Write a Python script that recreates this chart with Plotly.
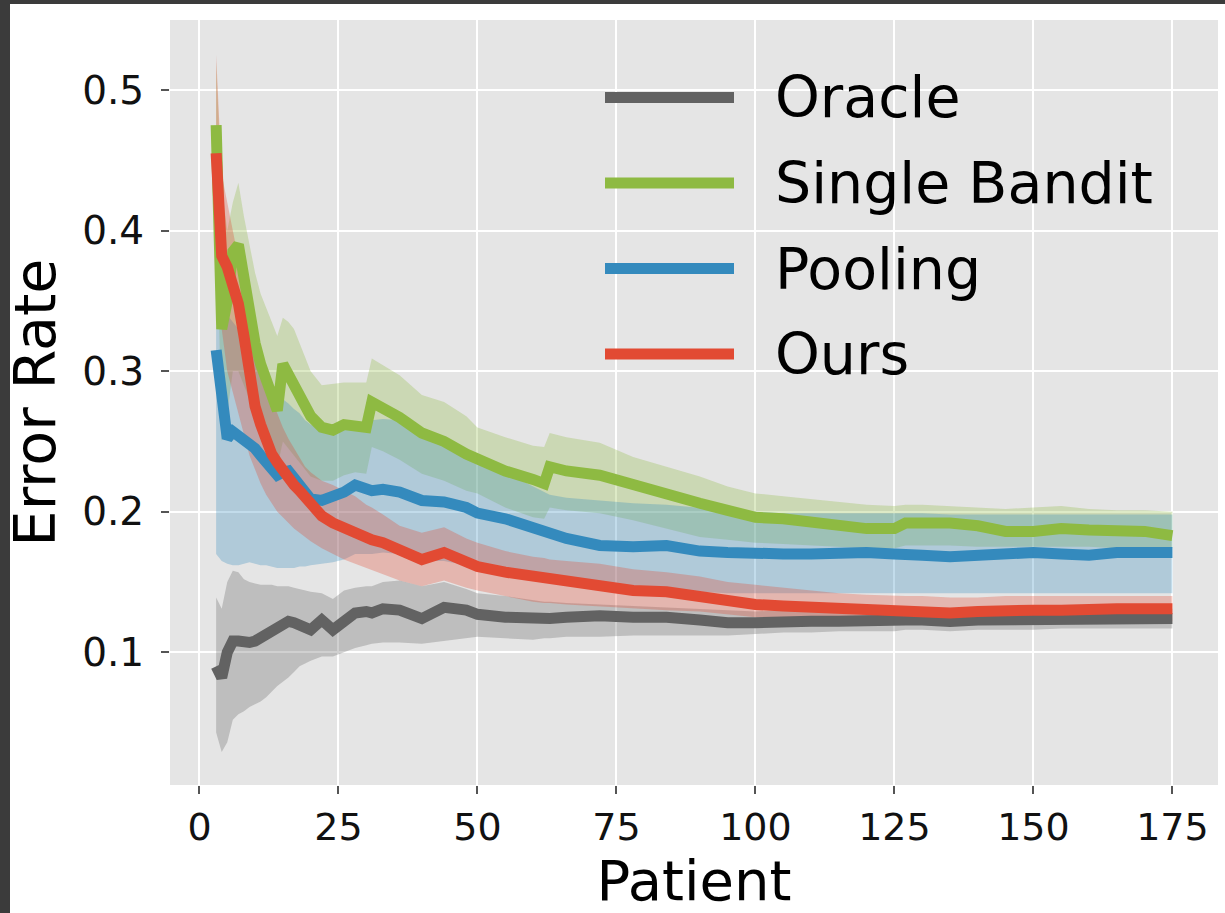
import plotly.graph_objects as go

# ---------------- data ----------------
patient = [3, 4, 5, 6, 7, 8, 9, 10, 11, 12, 13, 14, 15, 16, 17, 18, 19, 20, 22, 24, 26, 28, 30, 31, 33, 36,
           40, 44, 48, 50, 55, 60, 62, 63, 66, 72, 78, 84, 90, 95, 100, 105, 110, 115, 120, 125, 127, 130,
           135, 140, 145, 150, 155, 160, 165, 170, 175]

oracle_mean = [0.090, 0.082, 0.100, 0.108, 0.108, 0.107, 0.107, 0.108, 0.110, 0.114, 0.116, 0.118, 0.120, 0.122,
               0.121, 0.119, 0.116, 0.116, 0.123, 0.116, 0.122, 0.128, 0.129, 0.128, 0.131, 0.130,
               0.124, 0.132, 0.130, 0.127, 0.125, 0.124, 0.124, 0.124, 0.125, 0.126, 0.125, 0.125, 0.123, 0.121,
               0.121, 0.122, 0.122, 0.122, 0.123, 0.123, 0.123, 0.123, 0.122, 0.123, 0.123, 0.123, 0.123, 0.123,
               0.124, 0.124, 0.124]
oracle_upper = [0.139, 0.131, 0.150, 0.158, 0.157, 0.152, 0.150, 0.149, 0.148, 0.148, 0.148, 0.147, 0.147, 0.147,
                0.146, 0.145, 0.144, 0.143, 0.142, 0.138, 0.144, 0.146, 0.147, 0.147, 0.150, 0.151,
                0.147, 0.150, 0.145, 0.142, 0.140, 0.137, 0.136, 0.136, 0.135, 0.134, 0.133, 0.132, 0.131, 0.130,
                0.129, 0.130, 0.130, 0.130, 0.130, 0.130, 0.130, 0.130, 0.129, 0.130, 0.130, 0.130, 0.130, 0.130,
                0.131, 0.131, 0.131]
oracle_lower = [0.043, 0.029, 0.036, 0.052, 0.056, 0.058, 0.061, 0.063, 0.065, 0.068, 0.072, 0.076, 0.079, 0.082,
                0.086, 0.090, 0.092, 0.094, 0.097, 0.097, 0.100, 0.103, 0.105, 0.106, 0.107, 0.107,
                0.106, 0.108, 0.110, 0.111, 0.110, 0.109, 0.110, 0.110, 0.111, 0.111, 0.112, 0.112, 0.112, 0.112,
                0.113, 0.114, 0.114, 0.115, 0.115, 0.115, 0.116, 0.116, 0.115, 0.116, 0.116, 0.116, 0.117, 0.117,
                0.117, 0.117, 0.117]

single_mean = [0.475, 0.330, 0.350, 0.385, 0.390, 0.365, 0.345, 0.320, 0.305, 0.293, 0.280, 0.272, 0.305, 0.298,
               0.290, 0.282, 0.275, 0.268, 0.260, 0.258, 0.262, 0.261, 0.260, 0.278, 0.274, 0.267,
               0.256, 0.250, 0.241, 0.237, 0.229, 0.223, 0.220, 0.232, 0.229, 0.226, 0.219, 0.211, 0.206, 0.201,
               0.196, 0.195, 0.193, 0.190, 0.188, 0.188, 0.192, 0.192, 0.192, 0.190, 0.186, 0.186, 0.188, 0.187,
               0.186, 0.186, 0.183]
single_upper = [0.520, 0.430, 0.400, 0.420, 0.434, 0.410, 0.390, 0.370, 0.355, 0.345, 0.335, 0.325, 0.338, 0.335,
                0.330, 0.320, 0.310, 0.300, 0.290, 0.291, 0.292, 0.292, 0.292, 0.309, 0.304, 0.297,
                0.283, 0.278, 0.268, 0.260, 0.253, 0.247, 0.246, 0.256, 0.253, 0.249, 0.239, 0.232, 0.225, 0.218,
                0.213, 0.211, 0.209, 0.207, 0.205, 0.204, 0.205, 0.205, 0.204, 0.203, 0.202, 0.203, 0.204, 0.202,
                0.201, 0.201, 0.200]
single_lower = [0.430, 0.250, 0.270, 0.300, 0.300, 0.290, 0.280, 0.270, 0.260, 0.250, 0.240, 0.232, 0.250, 0.245,
                0.240, 0.235, 0.230, 0.225, 0.222, 0.222, 0.226, 0.228, 0.227, 0.246, 0.243, 0.237,
                0.227, 0.222, 0.215, 0.213, 0.203, 0.196, 0.195, 0.203, 0.201, 0.199, 0.194, 0.188, 0.182, 0.180,
                0.178, 0.177, 0.176, 0.175, 0.174, 0.174, 0.176, 0.176, 0.176, 0.175, 0.175, 0.175, 0.175, 0.175,
                0.174, 0.174, 0.174]

pooling_mean = [0.315, 0.280, 0.252, 0.257, 0.254, 0.252, 0.249, 0.245, 0.240, 0.235, 0.230, 0.226, 0.228, 0.229,
                0.224, 0.219, 0.214, 0.209, 0.208, 0.210, 0.214, 0.219, 0.217, 0.215, 0.216, 0.214,
                0.208, 0.207, 0.203, 0.199, 0.195, 0.189, 0.187, 0.186, 0.181, 0.176, 0.175, 0.176, 0.172, 0.171,
                0.170, 0.170, 0.170, 0.171, 0.171, 0.170, 0.170, 0.169, 0.168, 0.169, 0.170, 0.171, 0.170, 0.169,
                0.171, 0.171, 0.171]
pooling_upper = [0.330, 0.345, 0.340, 0.335, 0.330, 0.325, 0.320, 0.310, 0.300, 0.290, 0.283, 0.277, 0.280, 0.277,
                 0.273, 0.270, 0.265, 0.262, 0.258, 0.257, 0.260, 0.262, 0.262, 0.265, 0.266, 0.265,
                 0.255, 0.250, 0.243, 0.237, 0.228, 0.218, 0.214, 0.212, 0.210, 0.208, 0.206, 0.205, 0.203, 0.201,
                 0.200, 0.199, 0.199, 0.199, 0.199, 0.199, 0.199, 0.199, 0.198, 0.198, 0.198, 0.198, 0.198, 0.198,
                 0.198, 0.198, 0.198]
pooling_lower = [0.170, 0.165, 0.163, 0.162, 0.162, 0.163, 0.164, 0.163, 0.162, 0.162, 0.161, 0.160, 0.160, 0.160,
                 0.160, 0.161, 0.161, 0.162, 0.163, 0.164, 0.166, 0.170, 0.170, 0.170, 0.171, 0.170,
                 0.165, 0.165, 0.162, 0.161, 0.157, 0.154, 0.153, 0.152, 0.150, 0.148, 0.146, 0.145, 0.143, 0.142,
                 0.142, 0.142, 0.142, 0.142, 0.142, 0.142, 0.142, 0.142, 0.142, 0.142, 0.142, 0.142, 0.142, 0.142,
                 0.142, 0.142, 0.142]

ours_mean = [0.455, 0.382, 0.374, 0.360, 0.348, 0.325, 0.295, 0.275, 0.262, 0.250, 0.241, 0.235, 0.229, 0.224,
             0.219, 0.215, 0.211, 0.206, 0.197, 0.192, 0.188, 0.184, 0.181, 0.180, 0.178, 0.172,
             0.166, 0.171, 0.164, 0.161, 0.157, 0.154, 0.153, 0.152, 0.151, 0.148, 0.144, 0.143, 0.140, 0.136,
             0.134, 0.133, 0.132, 0.131, 0.130, 0.129, 0.129, 0.129, 0.128, 0.129, 0.130, 0.130, 0.130, 0.131,
             0.131, 0.131, 0.131]
ours_upper = [0.525, 0.440, 0.420, 0.400, 0.380, 0.360, 0.335, 0.315, 0.300, 0.290, 0.280, 0.270, 0.260, 0.252,
              0.245, 0.238, 0.232, 0.228, 0.222, 0.219, 0.215, 0.211, 0.205, 0.203, 0.198, 0.190,
              0.185, 0.189, 0.181, 0.178, 0.172, 0.168, 0.167, 0.166, 0.165, 0.163, 0.159, 0.157, 0.154, 0.150,
              0.148, 0.146, 0.144, 0.142, 0.141, 0.140, 0.140, 0.140, 0.139, 0.139, 0.140, 0.140, 0.140, 0.140,
              0.140, 0.140, 0.140]
ours_lower = [0.385, 0.330, 0.300, 0.285, 0.270, 0.255, 0.240, 0.230, 0.220, 0.212, 0.206, 0.200, 0.196, 0.192,
              0.188, 0.185, 0.182, 0.179, 0.174, 0.170, 0.166, 0.163, 0.160, 0.159, 0.156, 0.151,
              0.147, 0.151, 0.146, 0.144, 0.140, 0.136, 0.135, 0.135, 0.134, 0.1325, 0.131, 0.130, 0.129, 0.127,
              0.125, 0.124, 0.123, 0.122, 0.121, 0.121, 0.121, 0.121, 0.120, 0.121, 0.121, 0.121, 0.122, 0.122,
              0.122, 0.122, 0.122]

series_names = ["Oracle", "Single Bandit", "Pooling", "Ours"]
x_ticks = [0, 25, 50, 75, 100, 125, 150, 175]
y_ticks = [0.1, 0.2, 0.3, 0.4, 0.5]
y_tick_labels = ["0.1", "0.2", "0.3", "0.4", "0.5"]

# ---------------- styling ----------------
colors = ["#626262", "#8EBA42", "#348ABD", "#E24A33"]
fills = ["rgba(98,98,98,0.3)", "rgba(142,186,66,0.3)", "rgba(52,138,189,0.3)", "rgba(226,74,51,0.3)"]
FONT = "DejaVu Sans"
W, H = 1225, 913
ML, MR, MT, MB = 170, 7, 20, 128
PW, PH = W - ML - MR, H - MT - MB


def px2paper_x(px):
    return (px - ML) / PW


def px2paper_y(py):
    return (H - MB - py) / PH


series = [
    (oracle_mean, oracle_upper, oracle_lower),
    (single_mean, single_upper, single_lower),
    (pooling_mean, pooling_upper, pooling_lower),
    (ours_mean, ours_upper, ours_lower),
]

fig = go.Figure()
# shaded bands first
for (m, up, lo), f in zip(series, fills):
    fig.add_trace(go.Scatter(x=patient, y=up, mode="lines", line=dict(width=0, color=f),
                             hoverinfo="skip", showlegend=False))
    fig.add_trace(go.Scatter(x=patient, y=lo, mode="lines", line=dict(width=0, color=f),
                             fill="tonexty", fillcolor=f, hoverinfo="skip", showlegend=False))
# mean lines on top
for name, (m, up, lo), c in zip(series_names, series, colors):
    fig.add_trace(go.Scatter(x=patient, y=m, mode="lines", name=name,
                             line=dict(width=11, color=c), showlegend=False))

# manual legend (long line samples as in the reference)
shapes = []
annotations = []
leg_y0, leg_dy = 97.5, 85.5
for i, (name, c) in enumerate(zip(series_names, colors)):
    yy = px2paper_y(leg_y0 + i * leg_dy)
    shapes.append(dict(type="line", xref="paper", yref="paper",
                       x0=px2paper_x(605), x1=px2paper_x(734), y0=yy, y1=yy,
                       line=dict(color=c, width=11), layer="above"))
    annotations.append(dict(xref="paper", yref="paper", x=px2paper_x(773), y=yy,
                            text=name, showarrow=False, xanchor="left", yanchor="middle",
                            font=dict(family=FONT, size=57, color="#000000")))

# dark screenshot frame at left and top
shapes.append(dict(type="rect", xref="paper", yref="paper",
                   x0=px2paper_x(-5), x1=px2paper_x(10), y0=px2paper_y(H + 5), y1=px2paper_y(-5),
                   fillcolor="#3b3b3b", line=dict(width=0), layer="above"))
shapes.append(dict(type="rect", xref="paper", yref="paper",
                   x0=px2paper_x(-5), x1=px2paper_x(W + 5), y0=px2paper_y(4), y1=px2paper_y(-5),
                   fillcolor="#3b3b3b", line=dict(width=0), layer="above"))

fig.update_layout(
    width=W, height=H,
    margin=dict(l=ML, r=MR, t=MT, b=MB, pad=0),
    paper_bgcolor="#FFFFFF",
    plot_bgcolor="#E5E5E5",
    font=dict(family=FONT, color="#000000"),
    showlegend=False,
    shapes=shapes,
    annotations=annotations,
    xaxis=dict(
        range=[-5.3, 183.2], tickvals=x_ticks, ticktext=[str(t) for t in x_ticks],
        showgrid=True, gridcolor="#FFFFFF", gridwidth=1.8, zeroline=False,
        ticks="outside", ticklen=8, tickwidth=1.5, tickcolor="#555555",
        tickfont=dict(family=FONT, size=38, color="#111111"), ticklabelstandoff=0,
        title=dict(text="Patient", font=dict(family=FONT, size=56, color="#000000"), standoff=8),
        showline=False,
    ),
    yaxis=dict(
        range=[0.0056, 0.5498], tickvals=y_ticks, ticktext=y_tick_labels,
        showgrid=True, gridcolor="#FFFFFF", gridwidth=1.8, zeroline=False,
        ticks="outside", ticklen=8, tickwidth=1.5, tickcolor="#555555",
        tickfont=dict(family=FONT, size=39, color="#111111"), ticklabelstandoff=9,
        title=dict(text="Error Rate", font=dict(family=FONT, size=57, color="#000000"), standoff=8),
        showline=False,
    ),
)

fig.write_html("out.html")
